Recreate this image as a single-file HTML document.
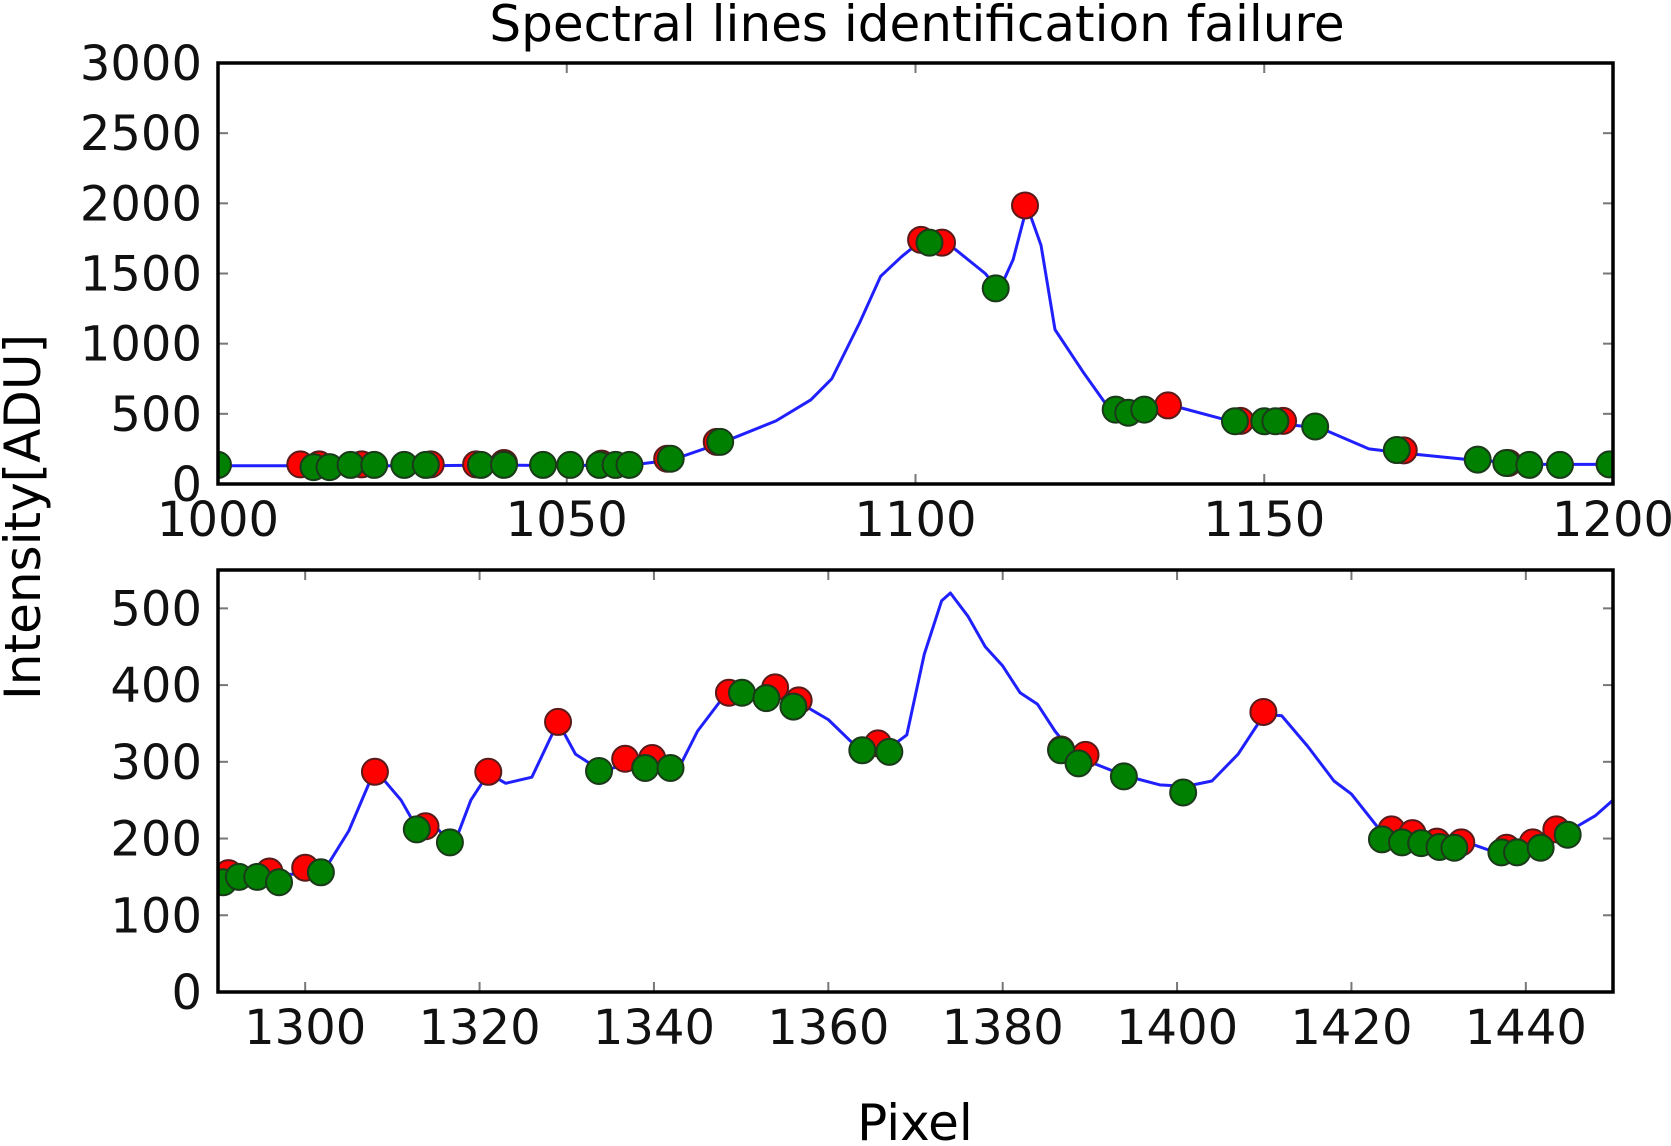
<!DOCTYPE html>
<html><head><meta charset="utf-8"><style>
html,body{margin:0;padding:0;background:#fff;}
svg{display:block;font-family:"DejaVu Sans","Liberation Sans",sans-serif;}
</style></head><body>
<svg id="chart" width="1671" height="1146" viewBox="0 0 1671 1146">
<text x="917" y="41" font-size="50" text-anchor="middle" fill="#000">Spectral lines identification failure</text>
<text transform="translate(40,517) rotate(-90)" font-size="50" text-anchor="middle" fill="#000">Intensity[ADU]</text>
<text x="915" y="1140" font-size="50" text-anchor="middle" fill="#000">Pixel</text>
<g id="top"></g>
<g id="bot"></g>
</svg>
<script>
// Top panel data
const topLineX=[1000,1012,1020,1030,1040,1050,1060,1065,1072,1080,1085,1088,1092,1095,1098,1101,1105,1110,1112,1114,1116,1118,1120,1124,1128,1132,1136,1145,1150,1158,1165,1170,1180,1190,1200];
const topLineY=[130,130,130,130,135,130,140,170,290,450,600,750,1150,1480,1620,1740,1700,1500,1380,1600,1980,1700,1100,800,520,530,570,450,440,400,250,220,170,140,140];
const topRedX=[1011.8,1014.5,1020.6,1030.5,1037,1041,1055,1064.4,1071.5,1100.8,1103.8,1115.7,1136.2,1146.6,1152.7,1170,1185];
const topRedY=[140,140,140,140,140,150,145,180,300,1740,1720,1985,560,450,450,240,150];
const topGreenX=[1000,1013.7,1016,1019,1022.4,1026.7,1029.8,1037.7,1041,1046.6,1050.5,1054.7,1057,1059,1064.9,1072,1102,1111.5,1128.7,1130.5,1132.8,1145.8,1150,1151.6,1157.3,1169,1180.6,1184.7,1188,1192.4,1199.5];
const topGreenY=[136,120,120,136,136,136,136,136,136,136,136,136,136,136,180,300,1720,1394,530,508,530,447,447,447,410,242,174,150,136,136,140];
const topXTicks=[1000,1050,1100,1150,1200];
const topYTicks=[0,500,1000,1500,2000,2500,3000];
// Bottom panel data
const botLineX=[1290,1302,1305,1308,1311,1313,1315,1317,1319,1321,1323,1326,1329,1331,1334,1338,1340,1343,1345,1348,1351,1354,1357,1360,1363,1365,1367,1369,1371,1373,1374,1376,1378,1380,1382,1384,1386,1388,1390,1394,1398,1401,1404,1407,1410,1412,1415,1418,1420,1423,1426,1430,1434,1437,1440,1443,1445,1448,1450];
const botLineY=[150,155,210,290,250,210,215,190,250,285,272,280,352,310,288,300,302,295,340,385,390,397,375,355,322,320,318,335,440,510,520,490,450,425,390,375,340,312,300,282,270,268,275,310,362,360,320,275,258,215,205,195,192,180,190,205,210,230,250];
const botRedX=[1291.2,1295.9,1300,1308,1313.8,1321,1329,1336.7,1339.8,1348.6,1353.9,1356.6,1365.7,1386.7,1389.5,1409.9,1424.6,1427,1429.8,1432.6,1437.8,1440.8,1443.5];
const botRedY=[155,157,162,287,216,287,352,304,305,390,397,380,324,316,309,365,212,207,196,195,188,195,212];
const botGreenX=[1290.6,1292.4,1294.5,1297,1301.8,1312.8,1316.6,1333.7,1339,1341.9,1350.1,1352.9,1356,1363.9,1367,1386.7,1388.7,1393.9,1400.7,1423.5,1425.8,1428,1430.1,1431.8,1437.2,1439,1441.7,1444.8];
const botGreenY=[143,150,150,143,156,212,195,288,292,292,390,383,372,315,313,315,298,281,260,199,195,194,189,188,182,182,188,205];
const botXTicks=[1300,1320,1340,1360,1380,1400,1420,1440];
const botYTicks=[0,100,200,300,400,500];

const NS='http://www.w3.org/2000/svg';
function mk(parent,tag,attrs){const e=document.createElementNS(NS,tag);for(const k in attrs)e.setAttribute(k,attrs[k]);parent.appendChild(e);return e;}

function panel(g,box,xd,yd,lx,ly,rx,ry,gx,gy,xt,yt,prefix){
  const L=box[0],T=box[1],R=box[2],B=box[3];
  const sx=v=>L+(v-xd[0])/(xd[1]-xd[0])*(R-L);
  const sy=v=>B-(v-yd[0])/(yd[1]-yd[0])*(B-T);
  const cid=prefix+'clip';
  const defs=mk(g,'defs',{});
  const cp=mk(defs,'clipPath',{id:cid});
  mk(cp,'rect',{x:L,y:T,width:R-L,height:B-T});
  xt.forEach(v=>{
    const x=sx(v);
    const t1=mk(g,'line',{x1:x,x2:x,y1:B,y2:B-10,stroke:'#777','stroke-width':2});
    
    
    const t2=mk(g,'line',{x1:x,x2:x,y1:T,y2:T+10,stroke:'#777','stroke-width':2});
    
    
    const lb=mk(g,'text',{x:x,y:B+52,'font-size':48,'text-anchor':'middle',fill:'#111'});
    lb.textContent=v;
    
    
  });
  yt.forEach(v=>{
    const y=sy(v);
    const t1=mk(g,'line',{x1:L,x2:L+10,y1:y,y2:y,stroke:'#777','stroke-width':2});
    
    
    const t2=mk(g,'line',{x1:R,x2:R-10,y1:y,y2:y,stroke:'#777','stroke-width':2});
    
    
    const lb=mk(g,'text',{x:L-16,y:y+17,'font-size':48,'text-anchor':'end',fill:'#111'});
    lb.textContent=v;
    
    
  });
  const inner=mk(g,'g',{'clip-path':'url(#'+cid+')'});
  const pts=lx.map((v,i)=>sx(v)+','+sy(ly[i])).join(' ');
  const pl=mk(inner,'polyline',{points:pts,fill:'none',stroke:'#2020ff','stroke-width':3,'stroke-linejoin':'round'});
  
  
  rx.forEach((v,i)=>{
    const c=mk(inner,'circle',{cx:sx(v),cy:sy(ry[i]),r:13,fill:'#ff0000',stroke:'#5a1a1a','stroke-width':2});
    
    
  });
  gx.forEach((v,i)=>{
    const c=mk(inner,'circle',{cx:sx(v),cy:sy(gy[i]),r:13,fill:'#008000',stroke:'#1a3a1a','stroke-width':2});
    
    
  });
  const fr=mk(g,'rect',{x:L,y:T,width:R-L,height:B-T,fill:'none',stroke:'#000','stroke-width':3.5});
  
  
}
panel(document.getElementById('top'),[218,63,1613,484],[1000,1200],[0,3000],topLineX,topLineY,topRedX,topRedY,topGreenX,topGreenY,topXTicks,topYTicks,'t');
panel(document.getElementById('bot'),[218,570,1613,992],[1290,1450],[0,550],botLineX,botLineY,botRedX,botRedY,botGreenX,botGreenY,botXTicks,botYTicks,'b');
</script>
</body></html>
